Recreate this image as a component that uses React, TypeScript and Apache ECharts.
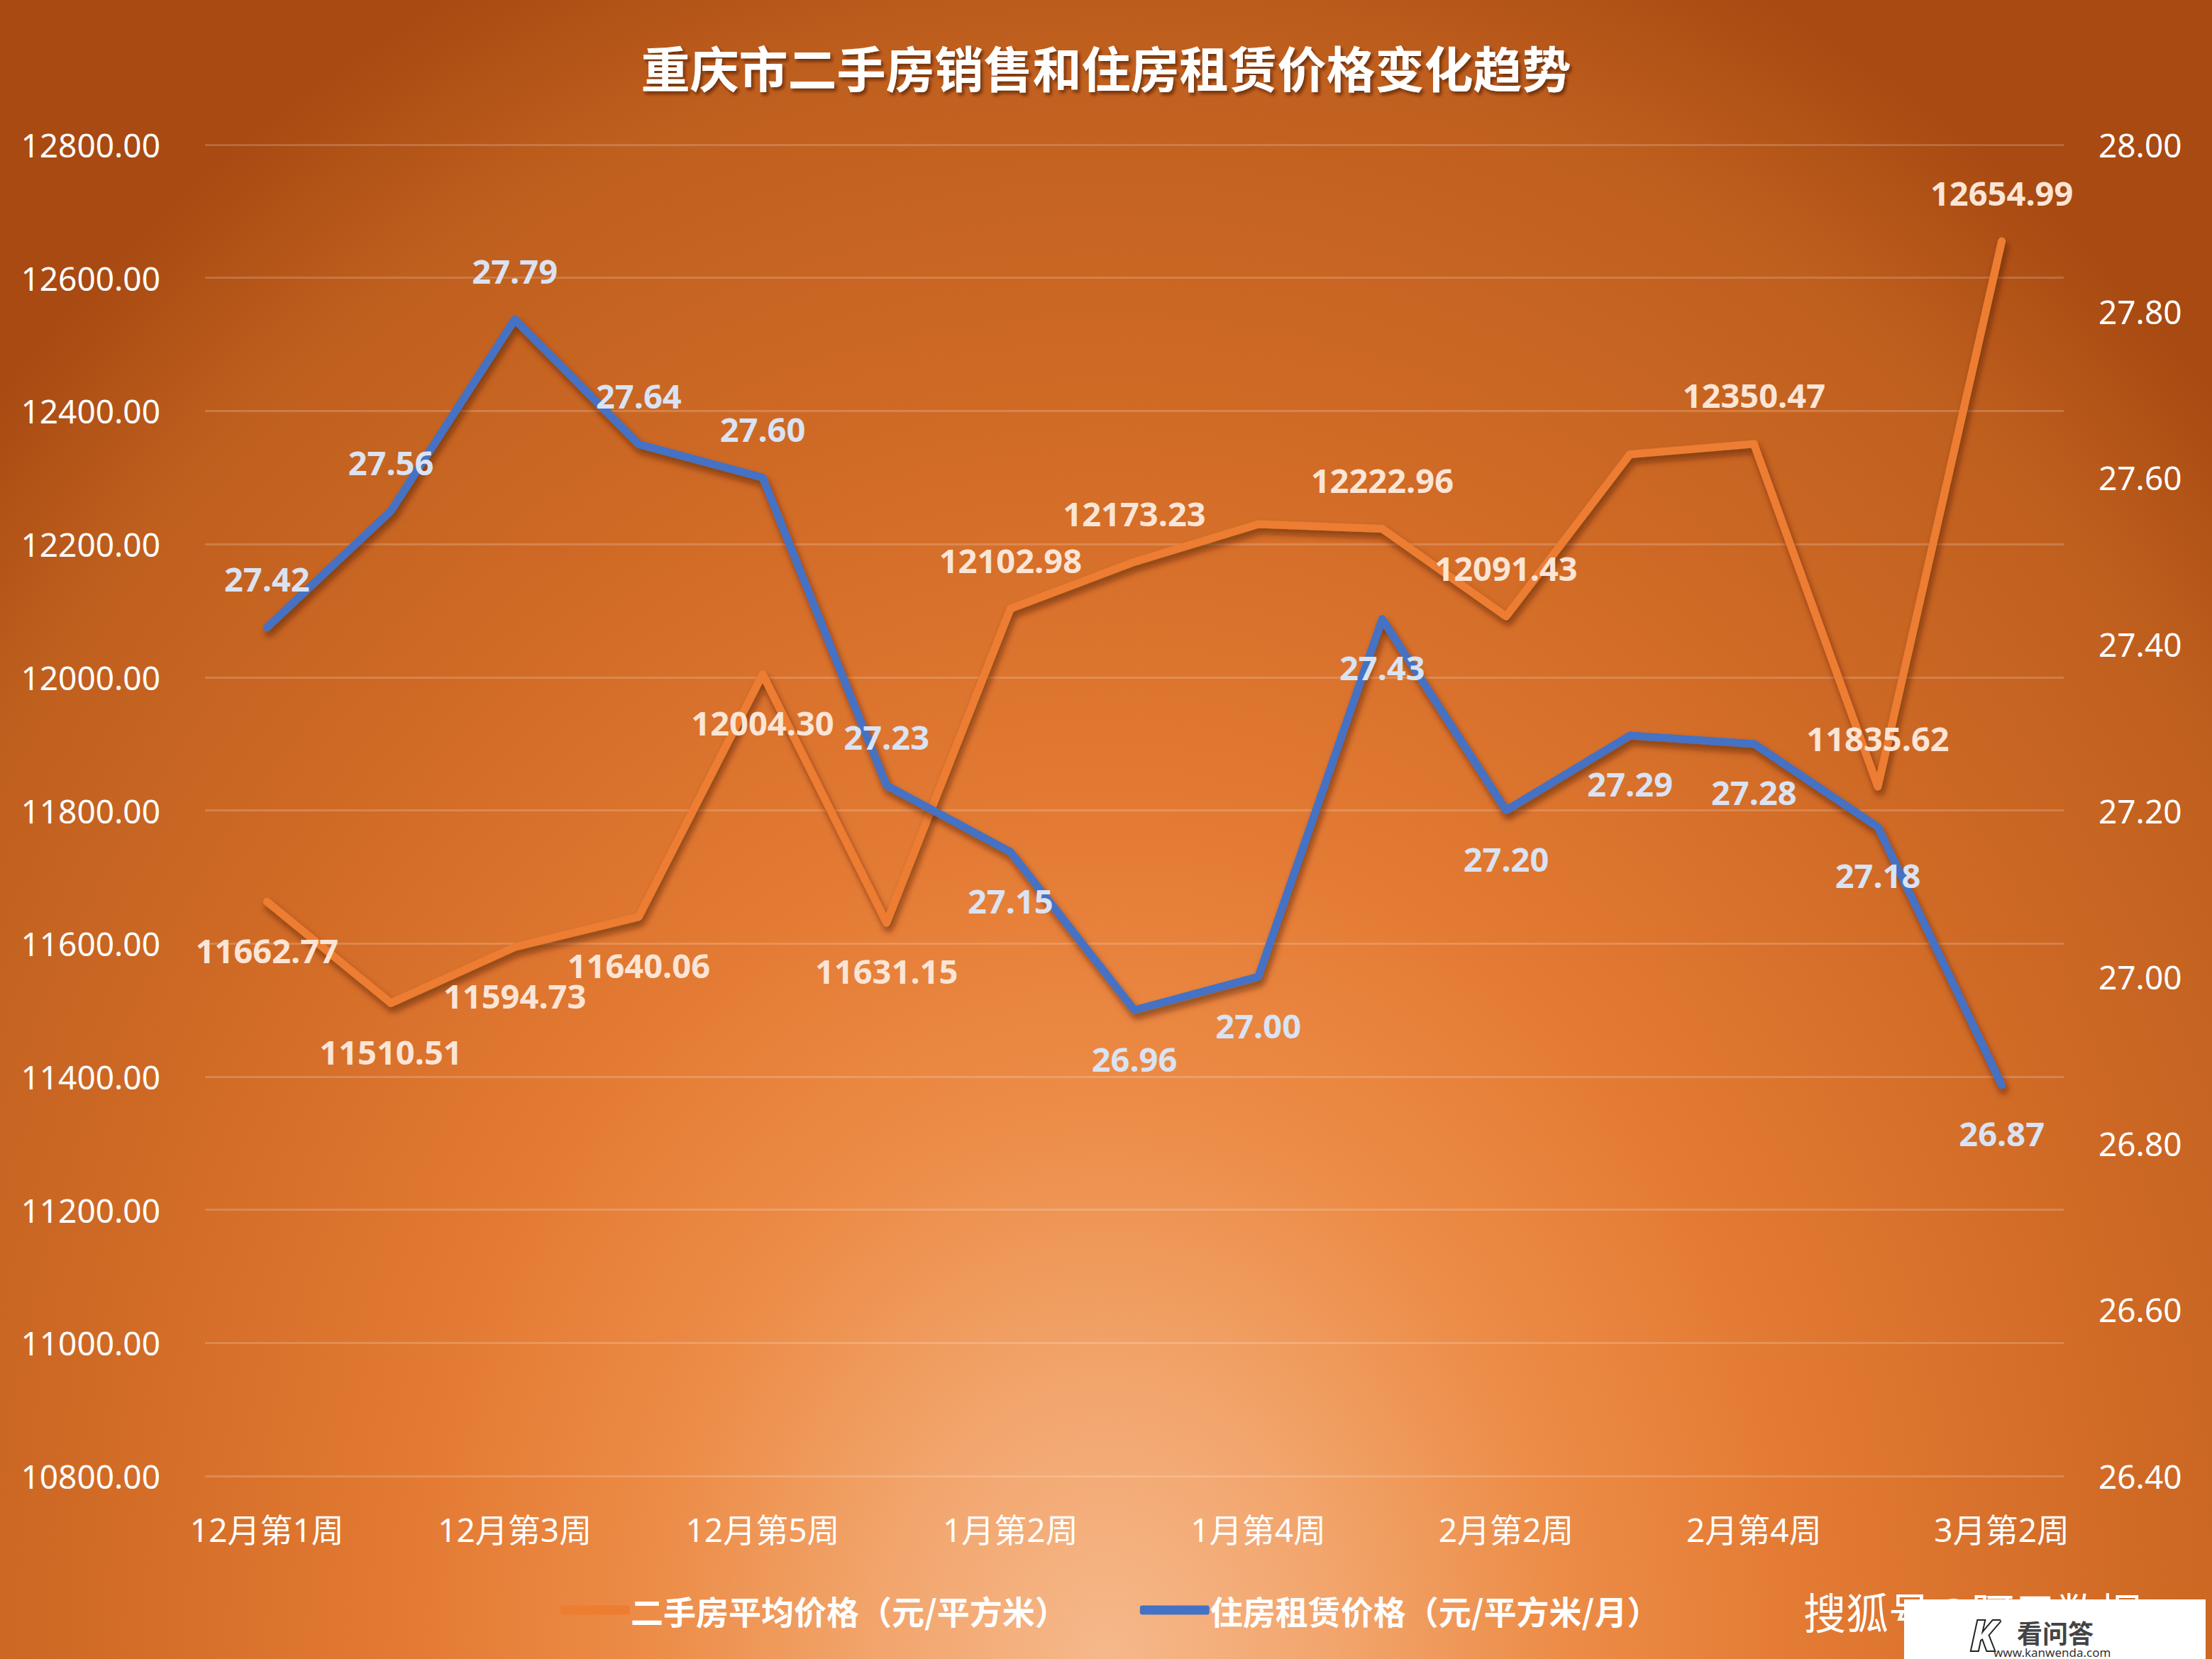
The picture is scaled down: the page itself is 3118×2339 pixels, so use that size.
import React, { useEffect, useRef } from "react";
import * as echarts from "echarts";

const W = 3118;
const H = 2339;

const categories = [
  "12月第1周", "12月第2周", "12月第3周", "12月第4周", "12月第5周",
  "1月第1周", "1月第2周", "1月第3周", "1月第4周",
  "2月第1周", "2月第2周", "2月第3周", "2月第4周",
  "3月第1周", "3月第2周",
];
const salePrice = [
  11662.77, 11510.51, 11594.73, 11640.06, 12004.3, 11631.15, 12102.98, 12173.23,
  12230.0, 12222.96, 12091.43, 12335.0, 12350.47, 11835.62, 12654.99,
];
const rentPrice = [
  27.42, 27.56, 27.79, 27.64, 27.6, 27.23, 27.15, 26.96, 27.0, 27.43, 27.2, 27.29, 27.28, 27.18, 26.87,
];
const saleLabelShown = [true, true, true, true, true, true, true, true, false, true, true, false, true, true, true];

const leftAxis = { min: 10800, max: 12800, step: 200 };
const rightAxis = { min: 26.4, max: 28.0, step: 0.2 };

const titleText = "重庆市二手房销售和住房租赁价格变化趋势";
const saleName = "二手房平均价格（元/平方米）";
const rentName = "住房租赁价格（元/平方米/月）";
const watermark = "搜狐号@阿元数据";

// label placement (style only)
const salePos = ["bottom", "bottom", "bottom", "bottom", "bottom", "bottom", "top", "top", "top", "top", "top", "top", "top", "top", "top"];
const rentPos = ["top", "top", "top", "top", "top", "top", "bottom", "bottom", "bottom", "bottom", "bottom", "bottom", "bottom", "bottom", "bottom"];

const ORANGE = "#ED7D31";
const BLUE = "#4472C4";
const NUM_FONT = "'Noto Sans', 'Noto Sans CJK SC', sans-serif";
const CJK_FONT = "'Noto Sans CJK SC', 'Noto Sans', sans-serif";

export default function App() {
  const ref = useRef<HTMLDivElement>(null);
  useEffect(() => {
    if (!ref.current) return;
    const chart = echarts.init(ref.current, null, { renderer: "svg", width: W, height: H });
    // elliptical glow centred at bottom-centre
    const rx = 2150;
    const ry = 2600;
    const bg = new echarts.graphic.RadialGradient(0.5, 0.5, 0.5, [
      { offset: 0, color: "#f6b88b" },
      { offset: 0.15, color: "#f2a56c" },
      { offset: 0.3, color: "#ec8c47" },
      { offset: 0.45, color: "#e47b34" },
      { offset: 0.65, color: "#d26c27" },
      { offset: 0.88, color: "#bf5f1e" },
      { offset: 1, color: "#a84a12" },
    ]);
    const lineShadow = {
      shadowColor: "rgba(60,20,0,0.55)",
      shadowBlur: 10,
      shadowOffsetX: 3,
      shadowOffsetY: 7,
    };
    const labelBase = {
      show: true,
      fontFamily: NUM_FONT,
      fontWeight: "bold" as const,
      fontSize: 47,
      distance: 44,
    };
    const option: any = {
      animation: false,
      backgroundColor: "#a84a12",
      title: {
        text: titleText,
        left: "center",
        top: 54,
        textStyle: {
          color: "#ffffff",
          fontFamily: CJK_FONT,
          fontWeight: "bold",
          fontSize: 69,
          textShadowColor: "rgba(60,20,0,0.6)",
          textShadowBlur: 4,
          textShadowOffsetX: 3,
          textShadowOffsetY: 4,
        },
      },
      legend: {
        left: 785,
        top: 2242,
        itemWidth: 98,
        itemHeight: 13,
        itemGap: 102,
        icon: "roundRect",
        textStyle: {
          color: "#ffffff",
          fontFamily: CJK_FONT,
          fontWeight: "bold",
          fontSize: 46,
          padding: [0, 0, 0, -4],
        },
        data: [saleName, rentName],
      },
      grid: { left: 289, right: W - 2909, top: 204, bottom: H - 2081, containLabel: false },
      xAxis: {
        type: "category",
        data: categories,
        boundaryGap: true,
        axisLine: { show: false },
        axisTick: { show: false },
        axisLabel: {
          interval: 1,
          color: "#ffffff",
          fontFamily: NUM_FONT,
          fontSize: 46,
          margin: 52,
        },
      },
      yAxis: [
        {
          type: "value",
          min: leftAxis.min,
          max: leftAxis.max,
          interval: leftAxis.step,
          axisLine: { show: false },
          axisTick: { show: false },
          splitLine: { lineStyle: { color: "rgba(255,255,255,0.18)", width: 3 } },
          axisLabel: {
            color: "#ffffff",
            fontFamily: NUM_FONT,
            fontSize: 46,
            margin: 63,
            formatter: (v: number) => v.toFixed(2),
          },
        },
        {
          type: "value",
          min: rightAxis.min,
          max: rightAxis.max,
          interval: rightAxis.step,
          axisLine: { show: false },
          axisTick: { show: false },
          splitLine: { show: false },
          axisLabel: {
            color: "#ffffff",
            fontFamily: NUM_FONT,
            fontSize: 46,
            margin: 49,
            formatter: (v: number) => v.toFixed(2),
          },
        },
      ],
      graphic: [
        {
          type: "rect",
          z: -100,
          silent: true,
          shape: { x: W / 2 - rx, y: H - ry, width: rx * 2, height: ry * 2 },
          style: { fill: bg },
        },
        {
          type: "text",
          z: 100,
          x: 2542,
          y: 2270,
          style: {
            text: watermark,
            fill: "#ffffff",
            fontFamily: CJK_FONT,
            fontSize: 60,
            verticalAlign: "middle",
            textAlign: "left",
            textShadowColor: "rgba(40,20,0,0.8)",
            textShadowOffsetX: 3,
            textShadowOffsetY: 3,
          },
        },
        {
          type: "rect",
          z: 101,
          shape: { x: 2684, y: 2255, width: 425, height: 90 },
          style: { fill: "#ffffff" },
        },
        {
          type: "text",
          z: 102,
          x: 2796,
          y: 2304,
          style: {
            text: "K",
            fill: "#ffffff",
            stroke: "#222222",
            lineWidth: 4,
            fontFamily: NUM_FONT,
            fontWeight: "bold",
            fontStyle: "italic",
            fontSize: 60,
            textAlign: "center",
            verticalAlign: "middle",
          },
        },
        {
          type: "text",
          z: 102,
          x: 2843,
          y: 2301,
          style: {
            text: "看问答",
            fill: "#444444",
            fontFamily: CJK_FONT,
            fontWeight: "bold",
            fontSize: 36,
            textAlign: "left",
            verticalAlign: "middle",
          },
        },
        {
          type: "text",
          z: 102,
          x: 2810,
          y: 2329,
          style: {
            text: "www.kanwenda.com",
            fill: "#333333",
            fontFamily: NUM_FONT,
            fontSize: 17,
            textAlign: "left",
            verticalAlign: "middle",
          },
        },
      ],
      series: [
        {
          name: saleName,
          type: "line",
          yAxisIndex: 0,
          symbol: "circle",
          symbolSize: 2,
          showSymbol: true,
          itemStyle: { color: ORANGE },
          lineStyle: { color: ORANGE, width: 11, cap: "round", join: "round", ...lineShadow },
          data: salePrice.map((v, i) => ({
            value: v,
            label: {
              ...labelBase,
              show: saleLabelShown[i],
              position: salePos[i],
              color: "#fbe5d6",
              formatter: (p: any) => Number(p.value).toFixed(2),
            },
          })),
          z: 3,
        },
        {
          name: rentName,
          type: "line",
          yAxisIndex: 1,
          symbol: "circle",
          symbolSize: 2,
          showSymbol: true,
          itemStyle: { color: BLUE },
          lineStyle: { color: BLUE, width: 11, cap: "round", join: "round", ...lineShadow },
          data: rentPrice.map((v, i) => ({
            value: v,
            label: {
              ...labelBase,
              position: rentPos[i],
              color: "#dae3f3",
              formatter: (p: any) => Number(p.value).toFixed(2),
            },
          })),
          z: 4,
        },
      ],
    };
    chart.setOption(option);
    return () => chart.dispose();
  }, []);
  return (
    <div
      ref={ref}
      style={{ position: "fixed", left: 0, top: 0, width: W, height: H }}
    />
  );
}
